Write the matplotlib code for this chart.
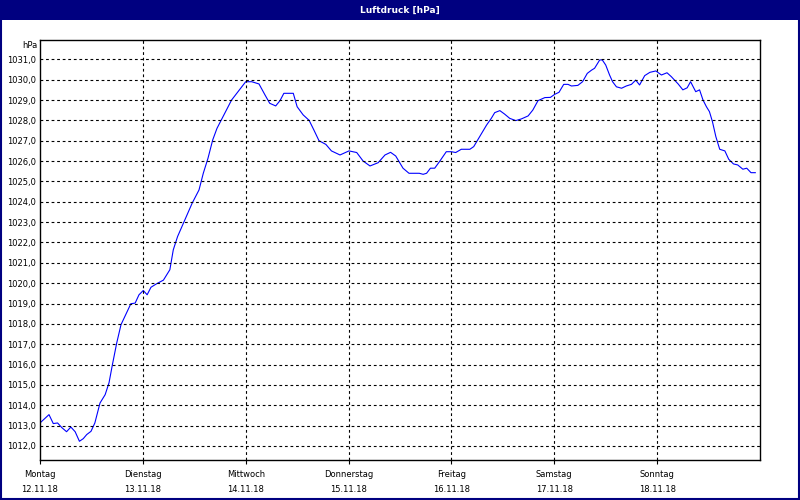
import matplotlib
matplotlib.use('Agg')
import matplotlib.pyplot as plt
from matplotlib.patches import Rectangle

# Luftdruck readings (hours since Montag 0:00, hPa)
hours = [0.0, 2.1, 3.1, 4.1, 5.1, 6.2, 7.2, 8.2, 9.2, 10.1, 10.9, 11.9, 12.8,
         14.0, 15.2, 16.1, 16.9, 17.9, 18.9, 20.0, 21.2, 22.2, 23.1, 24.1, 25.0,
         25.9, 27.2, 28.8, 30.3, 31.1, 32.1, 33.8, 35.5, 37.1, 38.1, 39.2, 40.3,
         41.3, 43.1, 44.7, 46.2, 48.0, 49.4, 51.1, 52.5, 53.6, 55.0, 56.0, 56.9,
         59.1, 60.0, 61.4, 62.8, 63.9, 65.1, 66.7, 68.0, 70.0, 72.1, 73.9, 75.4,
         77.0, 78.9, 80.5, 81.8, 83.0, 84.7, 86.1, 88.5, 89.4, 90.2, 91.1, 92.1,
         93.3, 94.8, 96.0, 97.0, 98.3, 100.3, 101.2, 102.6, 104.2, 105.3, 106.1,
         107.3, 108.4, 109.6, 111.0, 112.3, 113.9, 115.0, 116.2, 117.8, 119.1,
         120.1, 121.1, 122.2, 123.2, 124.0, 125.5, 126.6, 127.7, 128.7, 129.4,
         130.6, 131.2, 132.0, 132.9, 133.6, 134.5, 135.7, 136.8, 138.0, 139.0,
         139.9, 141.1, 142.3, 143.7, 145.0, 146.3, 147.3, 148.9, 150.0, 151.0,
         151.8, 153.0, 153.9, 154.7, 155.5, 156.2, 156.9, 157.7, 158.6, 159.8,
         160.7, 161.8, 162.8, 164.0, 164.9, 165.9, 166.9]
pressure = [1013.13, 1013.54, 1013.10, 1013.13, 1012.90, 1012.70, 1012.93, 1012.70,
            1012.23, 1012.36, 1012.56, 1012.72, 1013.13, 1014.11, 1014.52, 1015.10,
            1016.00, 1017.06, 1017.96, 1018.45, 1018.99, 1019.02, 1019.43, 1019.64,
            1019.43, 1019.80, 1019.97, 1020.15, 1020.66, 1021.64, 1022.29, 1023.11,
            1023.93, 1024.58, 1025.40, 1026.14, 1027.04, 1027.61, 1028.35, 1029.00,
            1029.41, 1029.90, 1029.90, 1029.79, 1029.25, 1028.84, 1028.71, 1028.97,
            1029.33, 1029.33, 1028.67, 1028.27, 1028.00, 1027.53, 1027.00, 1026.82,
            1026.50, 1026.30, 1026.50, 1026.42, 1026.00, 1025.76, 1025.92, 1026.30,
            1026.43, 1026.25, 1025.65, 1025.40, 1025.40, 1025.35, 1025.40, 1025.65,
            1025.65, 1026.00, 1026.46, 1026.46, 1026.42, 1026.58, 1026.58, 1026.71,
            1027.20, 1027.77, 1028.10, 1028.38, 1028.48, 1028.31, 1028.10, 1027.99,
            1028.07, 1028.22, 1028.51, 1028.97, 1029.12, 1029.13, 1029.28, 1029.38,
            1029.77, 1029.77, 1029.69, 1029.72, 1029.90, 1030.31, 1030.47, 1030.56,
            1030.97, 1030.97, 1030.72, 1030.23, 1029.90, 1029.65, 1029.58, 1029.69,
            1029.77, 1029.98, 1029.74, 1030.20, 1030.36, 1030.43, 1030.23, 1030.34,
            1030.15, 1029.79, 1029.50, 1029.60, 1029.90, 1029.41, 1029.50, 1029.00,
            1028.67, 1028.43, 1027.94, 1027.20, 1026.58, 1026.50, 1026.09, 1025.86,
            1025.81, 1025.60, 1025.65, 1025.43, 1025.43]

day_names = ['Montag', 'Dienstag', 'Mittwoch', 'Donnerstag', 'Freitag', 'Samstag', 'Sonntag']
day_dates = ['12.11.18', '13.11.18', '14.11.18', '15.11.18', '16.11.18', '17.11.18', '18.11.18']
y_ticks = list(range(1012, 1032))

navy = '#000080'
fig = plt.figure(figsize=(8, 5), dpi=100)
fig.patch.set_facecolor('white')

# title bar and frame
fig.add_artist(Rectangle((0, 0.96), 1, 0.04, transform=fig.transFigure,
                         facecolor=navy, edgecolor='none'))
fig.add_artist(Rectangle((0.001, 0.002), 0.998, 0.996, transform=fig.transFigure,
                         facecolor='none', edgecolor=navy, linewidth=1.5))
fig.text(0.5, 0.98, 'Luftdruck [hPa]', color='white', fontsize=6.5,
         fontweight='bold', ha='center', va='center')

ax = fig.add_axes([0.05, 0.08, 0.90, 0.84])
ax.plot(hours, pressure, color='#0000ff', linewidth=0.8)

ax.set_xlim(0, 168)
ax.set_ylim(1011.31, 1031.95)

ax.set_yticks(y_ticks)
ax.set_yticklabels([f'{v},0' for v in y_ticks], fontsize=6)
ax.set_xticks([24 * i for i in range(7)])
ax.set_xticklabels([f'{n}\n{d}' for n, d in zip(day_names, day_dates)],
                   fontsize=6, linespacing=1.9)

ax.tick_params(axis='y', length=0, pad=3)
ax.tick_params(axis='x', length=3, width=0.8, pad=4, direction='out')

for v in y_ticks:
    ax.axhline(v, color='black', linewidth=0.8, linestyle=(0, (2.5, 2.5)))
for i in range(1, 7):
    ax.axvline(24 * i, color='black', linewidth=0.8, linestyle=(0, (2.5, 2.5)))

for s in ax.spines.values():
    s.set_linewidth(1.0)

ax.text(-0.004, 1031.7, 'hPa', transform=ax.get_yaxis_transform(),
        ha='right', va='center', fontsize=6)

plt.savefig('out.png', dpi=100)
